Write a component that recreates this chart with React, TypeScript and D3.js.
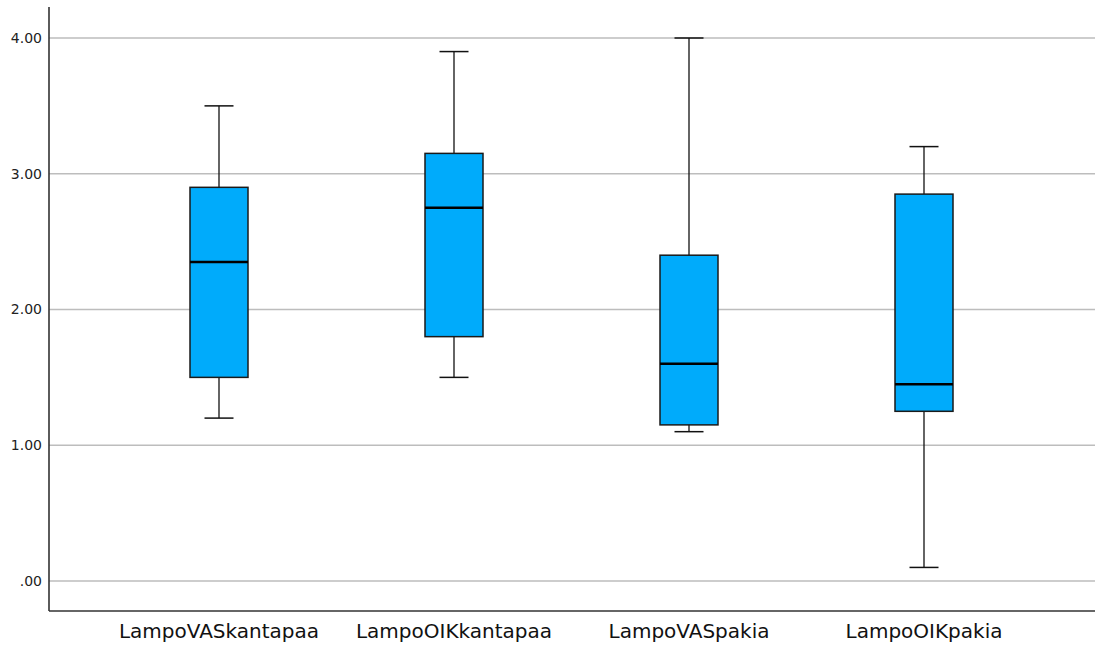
import React from "react";
import * as d3 from "d3";

const categories = ["LampoVASkantapaa", "LampoOIKkantapaa", "LampoVASpakia", "LampoOIKpakia"];
const whiskerLow = [1.2, 1.5, 1.1, 0.1];
const q1 = [1.5, 1.8, 1.15, 1.25];
const medians = [2.35, 2.75, 1.6, 1.45];
const q3 = [2.9, 3.15, 2.4, 2.85];
const whiskerHigh = [3.5, 3.9, 4.0, 3.2];
const yTicks = [0, 1, 2, 3, 4];

const W = 1097;
const H = 647;
const axisLeft = 49;
const axisRight = 1095;
const axisTop = 7;
const axisBottom = 611;

export default function App() {
  const y = d3.scaleLinear().domain([0, 4]).range([581, 38]);
  const x = d3.scalePoint<string>().domain(categories).range([219, 924]);
  const boxW = 58;
  const capW = 29;
  const fmt = (v: number) => (v === 0 ? ".00" : d3.format(".2f")(v));
  const font = "'DejaVu Sans', Verdana, sans-serif";

  return (
    <svg width={W} height={H} style={{ position: "absolute", left: 0, top: 0 }}>
      <rect width={W} height={H} fill="#ffffff" />
      {yTicks.map((t) => (
        <g key={t}>
          <line x1={axisLeft} x2={axisRight} y1={y(t)} y2={y(t)} stroke="#bdbdbd" strokeWidth={1.3} />
          <text x={42} y={y(t)} dy="0.35em" textAnchor="end" fontFamily={font} fontSize={14} fill="#222">
            {fmt(t)}
          </text>
        </g>
      ))}
      <line x1={axisLeft} x2={axisLeft} y1={axisTop} y2={axisBottom} stroke="#333" strokeWidth={1.6} />
      <line x1={axisLeft} x2={axisRight} y1={axisBottom} y2={axisBottom} stroke="#333" strokeWidth={1.6} />
      {categories.map((c, i) => {
        const cx = x(c)!;
        return (
          <g key={c}>
            <line x1={cx} x2={cx} y1={y(whiskerHigh[i])} y2={y(q3[i])} stroke="#111" strokeWidth={1.3} />
            <line x1={cx} x2={cx} y1={y(q1[i])} y2={y(whiskerLow[i])} stroke="#111" strokeWidth={1.3} />
            <line x1={cx - capW / 2} x2={cx + capW / 2} y1={y(whiskerHigh[i])} y2={y(whiskerHigh[i])} stroke="#111" strokeWidth={1.5} />
            <line x1={cx - capW / 2} x2={cx + capW / 2} y1={y(whiskerLow[i])} y2={y(whiskerLow[i])} stroke="#111" strokeWidth={1.5} />
            <rect
              x={cx - boxW / 2}
              y={y(q3[i])}
              width={boxW}
              height={y(q1[i]) - y(q3[i])}
              fill="#00abfb"
              stroke="#1a1a1a"
              strokeWidth={1.5}
            />
            <line x1={cx - boxW / 2} x2={cx + boxW / 2} y1={y(medians[i])} y2={y(medians[i])} stroke="#000" strokeWidth={2.5} />
            <text x={cx} y={638} textAnchor="middle" fontFamily={font} fontSize={20} fill="#111">
              {c}
            </text>
          </g>
        );
      })}
    </svg>
  );
}
